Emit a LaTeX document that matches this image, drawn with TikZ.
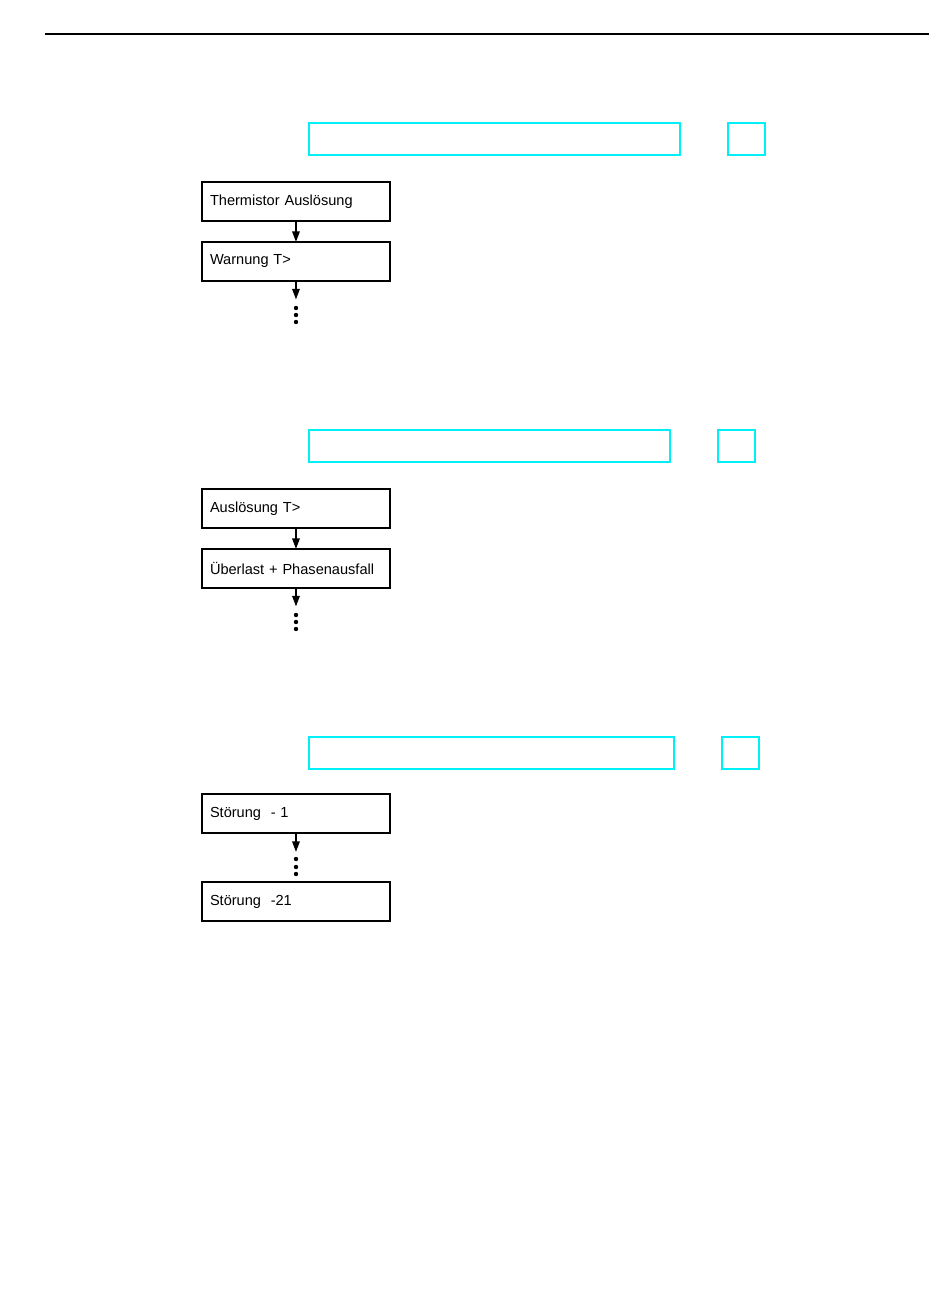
\documentclass[tikz,border=0pt]{standalone}
\usepackage{fontspec}
\setmainfont{Liberation Sans}
\usetikzlibrary{positioning,arrows.meta}
\definecolor{fieldcyan}{RGB}{0,240,250}
\tikzstyle{block} = [draw, line width=1.1pt, rectangle, anchor=north west, outer sep=0pt, minimum height=0.78cm, text width=3.44cm, inner xsep=0.16cm, align=left, font=\fontsize{8.3pt}{9pt}\selectfont]
\tikzstyle{field} = [draw=fieldcyan, line width=1.1pt, rectangle, anchor=north west, minimum height=0.64cm, inner sep=0pt]
\tikzstyle{flow} = [-{Triangle[length=6pt,width=4.2pt]}, line width=1pt]
\begin{document}
\begin{tikzpicture}[x=0.02cm, y=-0.02cm]
		\useasboundingbox (0,0) rectangle (950,1301);
		\draw [line width=1pt] (45,34) -- (929,34);

		% first screen
		\node [field, minimum width=7.42cm] (text1) at (308,122) {};
		\node [field, minimum width=0.74cm] (sign1) at (727,122) {};
		\node [block] (thermistor) at (202,182) {Thermistor Auslösung};
		\node [block, below=0.42cm of thermistor.south west, anchor=north west] (warning) {Warnung T>};
		\coordinate [below=0.37cm of warning.south] (more1);
		\draw [flow] (thermistor) -- (warning);
		\draw [flow] (warning) -- (more1);
		\foreach \y in {308,315,322} \fill (296,\y) circle (1.25pt);

		% second screen
		\node [field, minimum width=7.22cm] (text2) at (308,429) {};
		\node [field, minimum width=0.74cm] (sign2) at (717,429) {};
		\node [block] (tripping) at (202,489) {Auslösung T>};
		\node [block, below=0.42cm of tripping.south west, anchor=north west] (overload) {Überlast + Phasenausfall};
		\coordinate [below=0.37cm of overload.south] (more2);
		\draw [flow] (tripping) -- (overload);
		\draw [flow] (overload) -- (more2);
		\foreach \y in {615,622,629} \fill (296,\y) circle (1.25pt);

		% third screen
		\node [field, minimum width=7.3cm] (text3) at (308,736) {};
		\node [field, minimum width=0.74cm] (sign3) at (721,736) {};
		\node [block] (fault1) at (202,794) {Störung\ \ - 1};
		\node [block, below=0.98cm of fault1.south west, anchor=north west] (fault21) {Störung\ \ -21};
		\coordinate [below=0.38cm of fault1.south] (more3);
		\draw [flow] (fault1) -- (more3);
		\foreach \y in {859,867,874} \fill (296,\y) circle (1.25pt);
	\end{tikzpicture}
\end{document}
